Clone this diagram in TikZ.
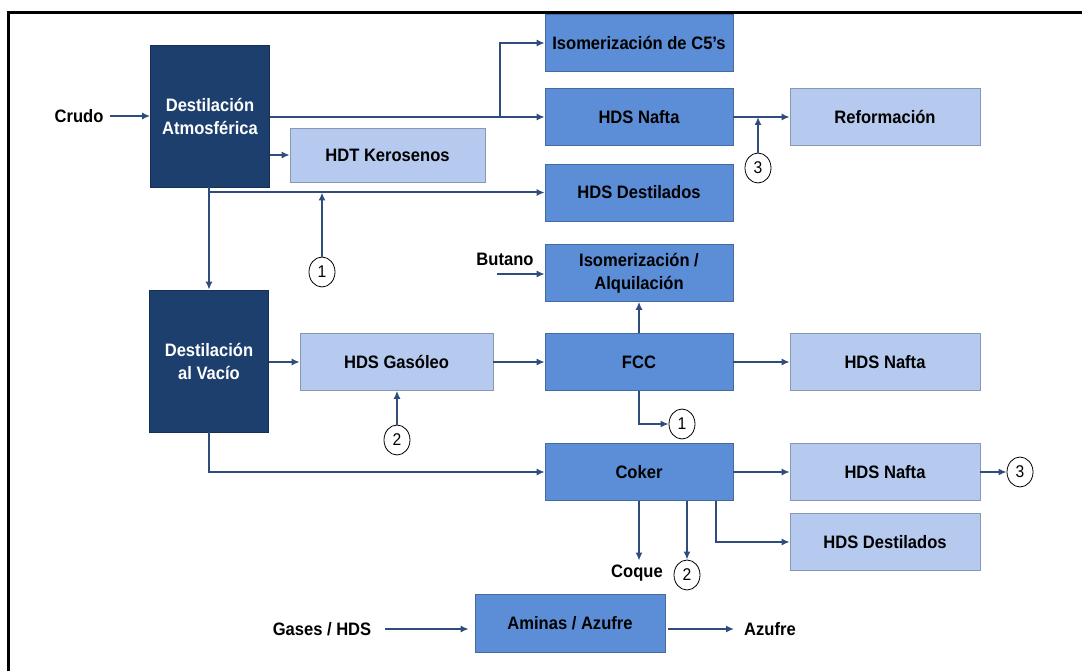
\documentclass[tikz,border=0pt]{standalone}
\usepackage{fontspec}
\setmainfont{Liberation Sans}[FakeStretch=0.92]
\usetikzlibrary{arrows.meta,shapes.geometric}

\definecolor{navy}{HTML}{1D3F6E}
\definecolor{midblue}{HTML}{5B8ED6}
\definecolor{lightblue}{HTML}{B5CAEE}
\definecolor{flowline}{HTML}{2E4C7C}

\tikzset{
  unit/.style={rectangle, inner sep=0pt, align=center,
    font=\bfseries\fontsize{18}{23}\selectfont,
    fill=#1, draw=#1!75!black, line width=0.6pt},
  darkunit/.style={unit=navy, text=white, minimum width=119pt, minimum height=142pt},
  midunit/.style={unit=midblue, minimum width=188pt, minimum height=57pt},
  lightunit/.style={unit=lightblue, minimum width=190pt, minimum height=57pt},
  label/.style={inner sep=0pt, font=\bfseries\fontsize{18}{23}\selectfont},
  tag/.style={ellipse, draw=black, line width=0.8pt, fill=white,
    minimum width=26pt, minimum height=30pt, inner sep=0pt,
    font=\fontsize{17}{20}\selectfont},
  flow/.style={draw=flowline, line width=2pt, -{Latex[length=8pt,width=7pt]}},
}

\begin{document}
\begin{tikzpicture}[x=1pt, y=-1pt]
  \useasboundingbox (0,0) rectangle (1082,671);
  % frame
  \draw[line width=3pt] (8,671) -- (8,13) -- (1082,13);

  % distillation columns
  \node[darkunit] (da) at (210,116) {Destilación\\Atmosférica};
  \node[darkunit] (dv) at (209,361) {Destilación\\al Vacío};

  % process units
  \node[midunit] (iso)    at (639,43)  {Isomerización de C5’s};
  \node[midunit] (nafta1) at (639,117) {HDS Nafta};
  \node[lightunit] (reform) at (885,117) {Reformación};
  \node[lightunit, minimum width=195pt, minimum height=54pt] (hdt) at (387.5,155) {HDT Kerosenos};
  \node[midunit] (dest1)  at (639,192.5) {HDS Destilados};
  \node[midunit] (isoalq) at (639,273) {Isomerización /\\Alquilación};
  \node[lightunit, minimum width=193pt] (gasoleo) at (396.5,362) {HDS Gasóleo};
  \node[midunit] (fcc)    at (639,362) {FCC};
  \node[lightunit] (nafta2) at (885,362) {HDS Nafta};
  \node[midunit] (coker)  at (639,472) {Coker};
  \node[lightunit] (nafta3) at (885,472) {HDS Nafta};
  \node[lightunit] (dest2)  at (885,542) {HDS Destilados};
  \node[midunit, minimum width=190pt, minimum height=58pt] (aminas) at (570,623) {Aminas / Azufre};

  % stream labels
  \node[label] (crudo)  at (79,116)  {Crudo};
  \node[label] (butano) at (505,259) {Butano};
  \node[label] (coque)  at (637,573) {Coque};
  \node[label] (gases)  at (322,629) {Gases / HDS};
  \node[label] (azufre) at (770,629) {Azufre};

  % cross-reference tags
  \node[tag] (t3a) at (758,168) {3};
  \node[tag] (t1a) at (322,272) {1};
  \node[tag] (t1b) at (682,424) {1};
  \node[tag] (t2a) at (397,440) {2};
  \node[tag] (t3b) at (1020,472) {3};
  \node[tag] (t2b) at (687,575) {2};

  % junction points
  \coordinate (split) at (500,117);
  \coordinate (j1) at (209,192.5);
  \coordinate (bs) at (497,274);

  % atmospheric section
  \draw[flow, shorten <=6pt] (crudo.east) -- (crudo.east -| da.west);
  \draw[flow] (da.east |- nafta1) -- (nafta1.west);
  \draw[flow] (split) |- (iso.west);
  \draw[flow] (da.east |- hdt) -- (hdt.west);
  \draw[flow] (da.south -| j1) -- (dv.north -| j1);
  \draw[flow] (j1) -- (dest1.west);
  \draw[flow] (t1a) -- (t1a |- j1);
  \draw[flow] (nafta1) -- (reform);
  \draw[flow] (t3a) -- (t3a |- nafta1);

  % vacuum / conversion section
  \draw[flow] (bs) -- (bs -| isoalq.west);
  \draw[flow] (fcc) -- (isoalq);
  \draw[flow] (dv.east |- gasoleo) -- (gasoleo.west);
  \draw[flow] (gasoleo) -- (fcc);
  \draw[flow] (fcc) -- (nafta2);
  \draw[flow] (t2a) -- (t2a |- gasoleo.south);
  \draw[flow] (fcc.south) |- (t1b.west);
  \draw[flow] (dv.south -| j1) |- (coker.west);
  \draw[flow] (coker) -- (nafta3);
  \draw[flow] (nafta3) -- (t3b);
  \draw[flow, shorten >=4pt] (coker.south) -- (coker.south |- coque.north);
  \draw[flow] (coker.south -| t2b) -- (t2b.north);
  \draw[flow] ([xshift=77pt]coker.south) |- (dest2.west);

  % sulphur recovery
  \draw[flow, shorten <=14pt, shorten >=6pt] (gases.east) -- (gases.east -| aminas.west);
  \draw[flow, shorten <=3pt, shorten >=10pt] (aminas.east |- azufre) -- (azufre.west);
\end{tikzpicture}
\end{document}
